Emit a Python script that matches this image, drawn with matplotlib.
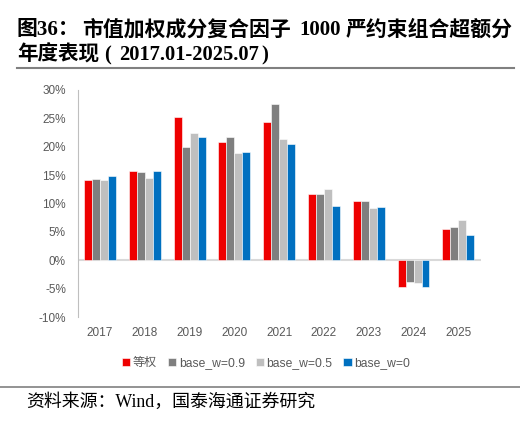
import matplotlib
matplotlib.use("Agg")
import matplotlib.pyplot as plt
import numpy as np
from matplotlib.lines import Line2D

years = ["2017", "2018", "2019", "2020", "2021", "2022", "2023", "2024", "2025"]
series_names = ["等权", "base_w=0.9", "base_w=0.5", "base_w=0"]
eq_w = [14.1, 15.7, 25.3, 20.8, 24.3, 11.7, 10.5, -4.7, 5.5]
base_09 = [14.4, 15.6, 20.0, 21.7, 27.5, 11.6, 10.4, -3.9, 5.9]
base_05 = [14.2, 14.5, 22.4, 18.9, 21.3, 12.6, 9.2, -4.0, 7.1]
base_0 = [14.9, 15.8, 21.8, 19.0, 20.5, 9.5, 9.3, -4.8, 4.4]
yticks = [-10, -5, 0, 5, 10, 15, 20, 25, 30]

title1_parts = ["图36：", "市值加权成分复合因子", "1000", "严约束组合超额分"]
title1_x = [17, 82, 299, 346]
title2_parts = ["年度表现", "(", "2017.01-2025.07", ")"]
title2_x = [17, 104, 119, 261]
source = "资料来源：Wind，国泰海通证券研究"

colors = ["#EE0000", "#7F7F7F", "#BFBFBF", "#0070C0"]
cjk = ["Liberation Sans", "Noto Sans CJK SC"]
serif_cjk = ["Liberation Serif", "Noto Sans CJK SC"]

fig = plt.figure(figsize=(5.2, 4.26), dpi=100)
ax = fig.add_axes([77.7 / 520, 1 - 317 / 426, 403 / 520, 227 / 426])

x = np.arange(len(years))
w = 0.178
data = [eq_w, base_09, base_05, base_0]
handles = []
for i, (vals, c) in enumerate(zip(data, colors)):
    b = ax.bar(x + (i - 1.5) * w, vals, width=w, color=c, edgecolor="white",
               linewidth=0.4, label=series_names[i], zorder=2)
    handles.append(b)

ax.axhline(0, color="#D9D9D9", linewidth=1.5, zorder=1)
ax.set_xlim(-0.5, 8.5)
ax.set_ylim(-10, 30)
ax.set_yticks(yticks)
ax.set_yticklabels([f"{v}%" for v in yticks])
ax.set_xticks(x)
ax.set_xticklabels(years)
for s in ["top", "right", "bottom"]:
    ax.spines[s].set_visible(False)
ax.spines["left"].set_color("#BFBFBF")
ax.spines["left"].set_linewidth(0.8)
ax.tick_params(axis="both", length=0, colors="#595959", labelsize=8.5)
ax.tick_params(axis="y", pad=8.5)
ax.tick_params(axis="x", pad=7)
for lab in ax.get_xticklabels() + ax.get_yticklabels():
    lab.set_family(cjk)

leg = fig.legend(handles=handles, labels=series_names, loc="center",
                 bbox_to_anchor=(266 / 520, 1 - 363 / 426), ncol=4, frameon=False,
                 handlelength=0.7, handleheight=0.7, handletextpad=0.2,
                 columnspacing=0.9, prop={"family": cjk, "size": 8.7})
for t in leg.get_texts():
    t.set_color("#595959")

# Title
for part, px in zip(title1_parts, title1_x):
    fig.text(px / 520, 1 - 30 / 426, part, family=serif_cjk, fontweight="bold",
             fontsize=15, va="center", ha="left")
for part, px in zip(title2_parts, title2_x):
    fig.text(px / 520, 1 - 55 / 426, part, family=serif_cjk, fontweight="bold",
             fontsize=14.8, va="center", ha="left")
fig.add_artist(Line2D([17 / 520, 514 / 520], [1 - 68 / 426, 1 - 68 / 426],
                      color="#808080", linewidth=1.5, transform=fig.transFigure))
fig.add_artist(Line2D([0, 1], [1 - 387 / 426, 1 - 387 / 426],
                      color="#808080", linewidth=1.2, transform=fig.transFigure))
fig.text(26 / 520, 1 - 402 / 426, source,
         family=serif_cjk, fontsize=12.9, va="center", ha="left")

fig.savefig("out.png", dpi=100)
